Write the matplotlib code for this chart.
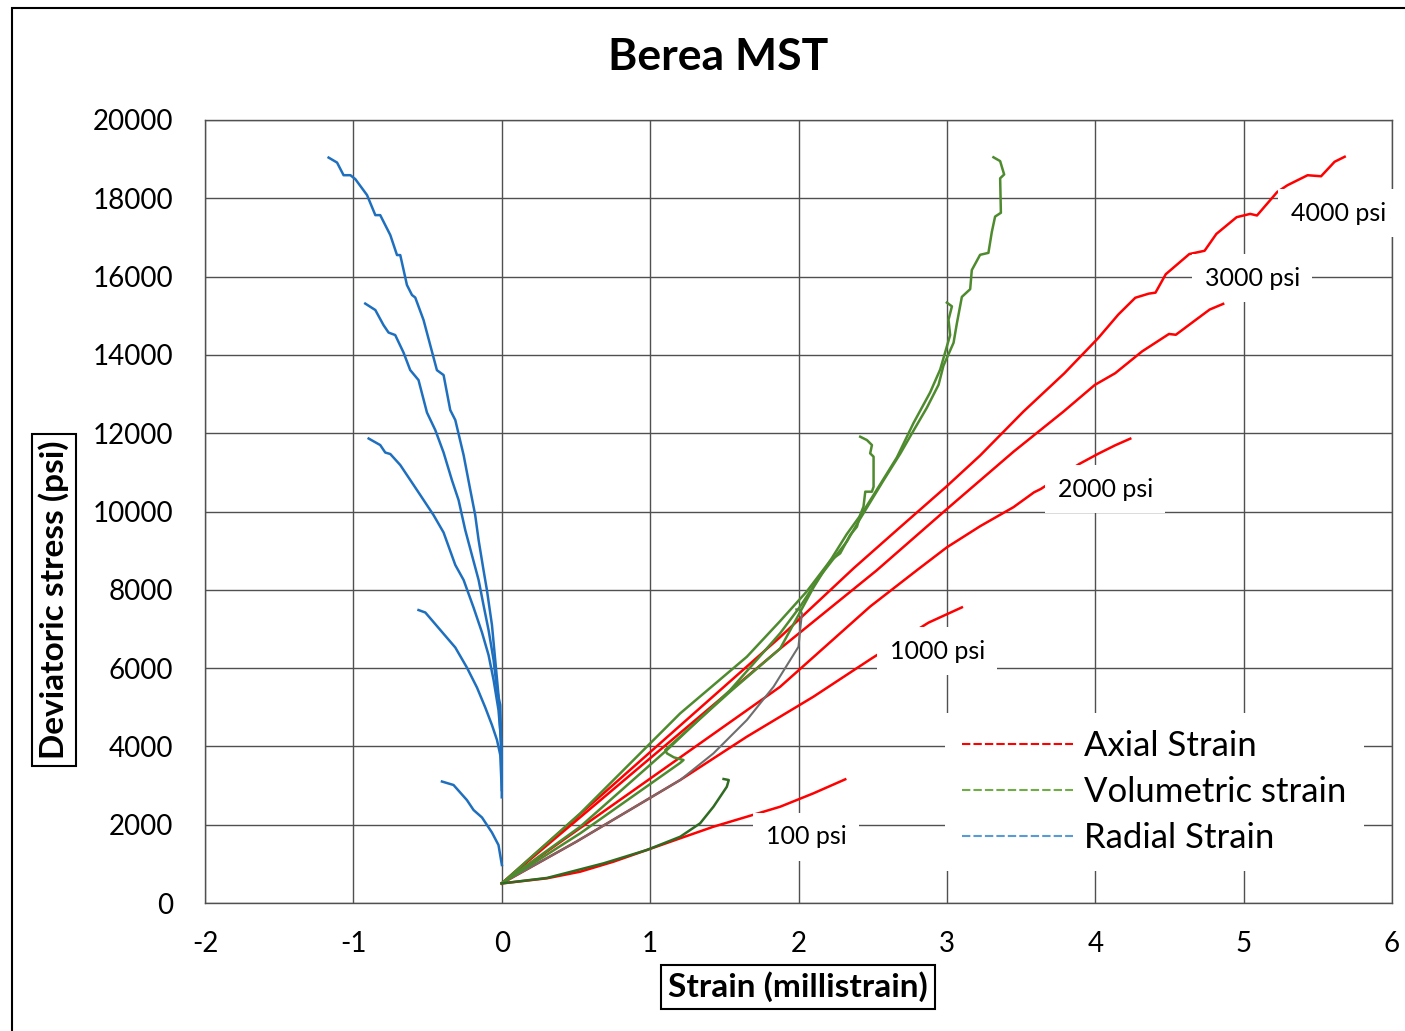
import matplotlib
matplotlib.use("Agg")
import matplotlib.pyplot as plt
from matplotlib.lines import Line2D
from matplotlib.patches import Rectangle

plt.rcParams['font.family'] = ['Lato', 'DejaVu Sans']
plt.rcParams['axes.unicode_minus'] = False

# confining pressures, psi
pressures = ["100 psi", "1000 psi", "2000 psi", "3000 psi", "4000 psi"]

# axial strain (millistrain) vs deviatoric stress (psi)
ax100_x = [0, 0.305, 0.529, 0.753, 0.978, 1.203, 1.427, 1.652, 1.877, 2.101, 2.315]
ax100_y = [500, 631, 800, 1055, 1354, 1653, 1949, 2204, 2460, 2802, 3159]
ax1000_x = [0, 0.5, 1.203, 1.652, 2.101, 2.495, 2.876, 3.101]
ax1000_y = [500, 1560, 3142, 4248, 5270, 6252, 7161, 7551]
ax2000_x = [0, 1.0, 1.876, 2.483, 2.798, 3.0, 3.224, 3.449, 3.587, 3.632, 3.894, 4.02, 4.134, 4.236]
ax2000_y = [500, 3177, 5522, 7573, 8500, 9085, 9624, 10111, 10489, 10573, 11218, 11475, 11690, 11861]
ax3000_x = [0, 1.0, 1.876, 2.528, 3.0, 3.449, 3.786, 3.997, 4.134, 4.316, 4.497, 4.543, 4.634, 4.771, 4.862]
ax3000_y = [500, 3697, 6497, 8500, 10063, 11527, 12553, 13233, 13531, 14090, 14535, 14514, 14772, 15158, 15303]
ax4000_x = [0, 1.0, 1.876, 2.371, 2.663, 3.0, 3.224, 3.516, 3.792, 4.02, 4.156, 4.27, 4.361, 4.406,
            4.475, 4.634, 4.737, 4.816, 4.953, 5.044, 5.09, 5.226, 5.295, 5.431, 5.522, 5.613, 5.681]
ax4000_y = [500, 3853, 6791, 8548, 9526, 10648, 11430, 12553, 13531, 14430, 15033, 15460, 15565, 15590,
            16060, 16576, 16660, 17089, 17518, 17602, 17561, 18159, 18333, 18589, 18563, 18933, 19061]

# volumetric strain
vol100_x = [0, 0.305, 0.686, 0.978, 1.203, 1.337, 1.427, 1.472, 1.517, 1.53, 1.495]
vol100_y = [500, 640, 1013, 1354, 1693, 2035, 2460, 2715, 2970, 3141, 3167]
vol1000_x = [0, 0.5, 1.203, 1.427, 1.652, 1.832, 1.944, 2.0, 2.011, 2.023, 2.01, 1.985]
vol1000_y = [500, 1560, 3142, 3823, 4674, 5525, 6206, 6546, 6972, 7398, 7500, 7500]
vol2000_x = [0, 0.529, 1.203, 1.652, 1.876, 2.057, 2.214, 2.281, 2.348, 2.394, 2.416, 2.438, 2.45,
             2.495, 2.506, 2.506, 2.483, 2.495, 2.461, 2.416]
vol2000_y = [500, 2291, 4845, 6290, 7200, 7963, 8745, 8931, 9400, 9612, 9915, 10123, 10506,
             10506, 10633, 11400, 11485, 11697, 11825, 11910]
vol3000_x = [0, 0.529, 1.203, 1.225, 1.16, 1.113, 1.102, 1.54, 1.876, 1.989, 2.101, 2.214, 2.326,
             2.438, 2.551, 2.663, 2.775, 2.887, 2.955, 3.022, 3.011, 3.034, 3.0]
vol3000_y = [500, 1780, 3580, 3652, 3720, 3823, 3908, 5400, 6497, 7279, 8060, 8745, 9425,
             10011, 10696, 11381, 12259, 13040, 13627, 14507, 14898, 15240, 15335]
vol4000_x = [0, 0.529, 1.113, 1.54, 1.876, 2.011, 2.146, 2.326, 2.416, 2.573, 2.686, 2.775, 2.865,
             2.944, 2.977, 3.045, 3.067, 3.101, 3.157, 3.168, 3.224, 3.28, 3.303, 3.325, 3.364,
             3.359, 3.386, 3.359, 3.314]
vol4000_y = [500, 1950, 3908, 5440, 6888, 7573, 8352, 9233, 9818, 10796, 11478, 12065, 12650,
             13237, 13725, 14310, 14798, 15482, 15679, 16166, 16557, 16606, 17142, 17533, 17630,
             18511, 18608, 18950, 19048]

# radial strain
rad100_x = [0.001, -0.022, -0.066, -0.133, -0.19, -0.235, -0.325, -0.403]
rad100_y = [970, 1481, 1800, 2184, 2375, 2630, 3014, 3103]
rad1000_x = [0, -0.01, -0.032, -0.066, -0.111, -0.167, -0.235, -0.313, -0.414, -0.515, -0.561]
rad1000_y = [2886, 3780, 4163, 4546, 4993, 5504, 6015, 6526, 6973, 7420, 7483]
rad2000_x = [0, -0.005, -0.022, -0.055, -0.089, -0.133, -0.19, -0.257, -0.313, -0.392, -0.46,
             -0.549, -0.594, -0.684, -0.751, -0.785, -0.819, -0.897]
rad2000_y = [3650, 4163, 4929, 5695, 6334, 6908, 7547, 8250, 8633, 9463, 9910,
             10420, 10676, 11187, 11468, 11506, 11697, 11864]
rad3000_x = [0, -0.01, -0.032, -0.055, -0.089, -0.123, -0.156, -0.201, -0.246, -0.291, -0.336,
             -0.392, -0.448, -0.504, -0.561, -0.617, -0.662, -0.718, -0.763, -0.797, -0.852, -0.92]
rad3000_y = [3600, 5057, 5440, 6206, 6973, 7611, 8250, 8888, 9526, 10292, 10803,
             11506, 12080, 12527, 13357, 13613, 14060, 14507, 14571, 14762, 15146, 15311]
rad4000_x = [0, 0, -0.01, -0.022, -0.044, -0.066, -0.1, -0.123, -0.156, -0.179, -0.212, -0.257,
             -0.313, -0.347, -0.392, -0.437, -0.482, -0.527, -0.583, -0.605, -0.639, -0.684,
             -0.706, -0.751, -0.819, -0.852, -0.908, -0.987, -1.02, -1.066, -1.11, -1.167]
rad4000_y = [2700, 3525, 4418, 5312, 6206, 7100, 7995, 8505, 9270, 9910, 10550, 11440,
             12335, 12590, 13485, 13610, 14250, 14890, 15465, 15530, 15785, 16550,
             16550, 17060, 17570, 17570, 18083, 18490, 18590, 18590, 18913, 19040]

# label positions for each confining pressure
label_x = [2.052, 2.935, 4.067, 5.057, 5.637]
label_y = [1686, 6436, 10574, 15963, 17623]

RED = "#FF0000"
GREEN = "#4E8A2E"
BLUE = "#1F6FBF"
GREY = "#6E6E6E"

fig = plt.figure(figsize=(14.05, 10.31), dpi=100)
ax = fig.add_axes([205 / 1405, 1 - 903 / 1031, 1187 / 1405, 783 / 1031])

lw = 1.8
for xs, ys in [(ax100_x, ax100_y), (ax1000_x, ax1000_y), (ax2000_x, ax2000_y),
               (ax3000_x, ax3000_y), (ax4000_x, ax4000_y)]:
    ax.plot(xs, ys, color=RED, lw=lw, zorder=3)
ax.plot(vol1000_x, vol1000_y, color=GREY, lw=1.5, zorder=3)
for xs, ys in [(vol2000_x, vol2000_y), (vol3000_x, vol3000_y), (vol4000_x, vol4000_y)]:
    ax.plot(xs, ys, color=GREEN, lw=lw, zorder=3)
ax.plot(vol100_x, vol100_y, color="#2F6B22", lw=lw, zorder=3)
for xs, ys in [(rad100_x, rad100_y), (rad1000_x, rad1000_y), (rad2000_x, rad2000_y),
               (rad3000_x, rad3000_y), (rad4000_x, rad4000_y)]:
    ax.plot(xs, ys, color=BLUE, lw=lw, zorder=3)

for lab, lx, ly in zip(pressures, label_x, label_y):
    ax.text(lx, ly, lab, ha="center", va="center", fontsize=18, zorder=6, clip_on=False,
            bbox=dict(facecolor="white", edgecolor="none", pad=9))

ax.set_xlim(-2, 6)
ax.set_ylim(0, 20000)
ax.set_xticks(range(-2, 7))
ax.set_yticks(range(0, 20001, 2000))
ax.grid(True, color="#505050", lw=1.0)
ax.set_axisbelow(True)
ax.tick_params(length=0, labelsize=20)
ax.tick_params(axis="y", pad=23)
ax.tick_params(axis="x", pad=20)
for s in ax.spines.values():
    s.set_color("#505050")
    s.set_linewidth(1.0)

handles = [Line2D([], [], color=RED, lw=1.5, dashes=(4, 1.5)),
           Line2D([], [], color="#70AD47", lw=1.5, dashes=(4, 1.5)),
           Line2D([], [], color="#5B9BD5", lw=1.5, dashes=(4, 1.5))]
leg = ax.legend(handles, ["Axial Strain", "Volumetric strain", "Radial Strain"],
                loc="upper left", bbox_to_anchor=(0.6234, 0.2427), borderaxespad=0,
                fontsize=25, handlelength=3.2, handletextpad=0.3, labelspacing=0.4,
                borderpad=0.5, fancybox=False, framealpha=1, edgecolor="none",
                facecolor="white")
leg.set_zorder(7)

fig.text(718 / 1405, 1 - 57 / 1031, "Berea MST", ha="center", va="center",
         fontsize=32, fontweight="bold")
fig.text(54 / 1405, 1 - 600 / 1031, "Deviatoric stress (psi)", ha="center", va="center",
         rotation=90, fontsize=24, fontweight="bold",
         bbox=dict(facecolor="white", edgecolor="black", lw=1.5, pad=5))
fig.text(798 / 1405, 1 - 987 / 1031, "Strain (millistrain)", ha="center", va="center",
         fontsize=24, fontweight="bold",
         bbox=dict(facecolor="white", edgecolor="black", lw=1.5, pad=5))

# outer frame of the chart area
fig.patches.append(Rectangle((12 / 1405, -0.05), 1.1, 1.05 - 8 / 1031,
                             transform=fig.transFigure, fill=False,
                             edgecolor="black", lw=1.5))

fig.savefig("out.png", dpi=100)
